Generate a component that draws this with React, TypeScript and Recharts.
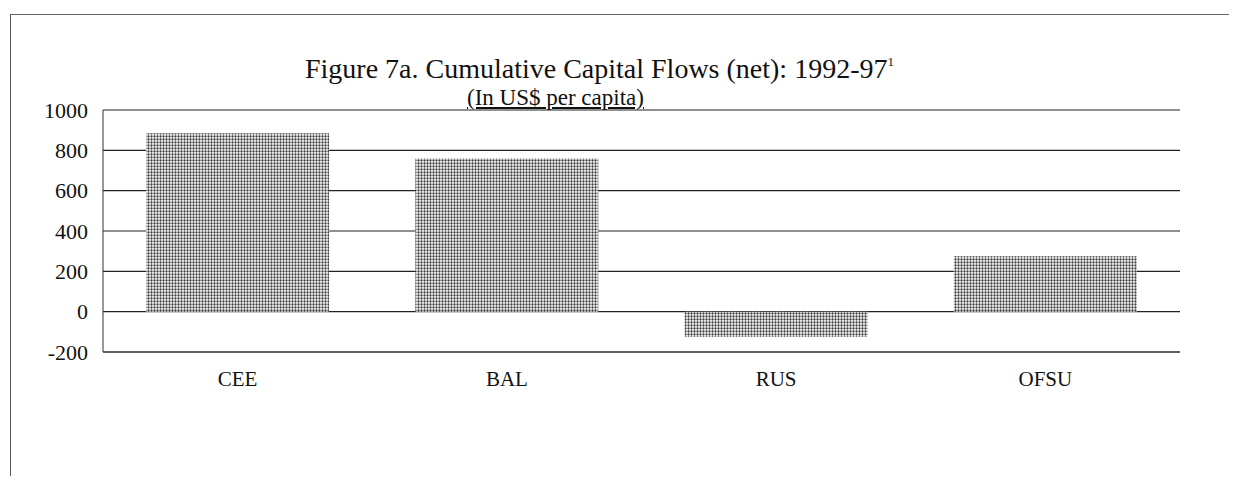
import { BarChart, Bar, XAxis, YAxis, CartesianGrid } from "recharts";

const regions = ["CEE", "BAL", "RUS", "OFSU"];
const flowsPerCapita = [885, 760, -125, 275];
const yTicks = [-200, 0, 200, 400, 600, 800, 1000];

const data = regions.map((region, i) => ({ region, flow: flowsPerCapita[i] }));

const serif = "Liberation Serif, DejaVu Serif, serif";

export default function App() {
  return (
    <div
      style={{
        position: "relative",
        width: 1237,
        height: 484,
        margin: -8,
        background: "#fff",
        overflow: "hidden",
        fontFamily: serif,
      }}
    >
      {/* scanned page frame */}
      <div
        style={{
          position: "absolute",
          left: 10,
          top: 14,
          width: 1240,
          height: 480,
          borderLeft: "1px solid #555",
          borderTop: "1px solid #666",
        }}
      />
      <div
        style={{
          position: "absolute",
          left: 305,
          top: 55,
          fontSize: 28,
          color: "#111",
          whiteSpace: "nowrap",
          lineHeight: "27px",
        }}
      >
        Figure 7a. Cumulative Capital Flows (net): 1992-97
        <span style={{ fontSize: 13, verticalAlign: "top", lineHeight: "13px" }}>1</span>
      </div>
      <div
        style={{
          position: "absolute",
          left: 467,
          top: 86,
          fontSize: 23,
          color: "#111",
          textDecoration: "underline",
          whiteSpace: "nowrap",
          lineHeight: "23px",
        }}
      >
        (In US$ per capita)
      </div>
      <div style={{ position: "absolute", left: 0, top: 0 }}>
        <BarChart
          width={1237}
          height={484}
          data={data}
          margin={{ top: 110, right: 57, left: 0, bottom: 102 }}
          barCategoryGap="16%"
          style={{ fontFamily: serif }}
        >
          <defs>
            <pattern id="dots" width="3" height="3" patternUnits="userSpaceOnUse">
              <rect width="3" height="3" fill="#fff" />
              <circle cx="1.5" cy="1.5" r="1.15" fill="#3a3a3a" />
            </pattern>
          </defs>
          <CartesianGrid vertical={false} stroke="#222" strokeWidth={1.2} />
          <XAxis
            dataKey="region"
            height={30}
            axisLine={{ stroke: "#333" }}
            tickLine={false}
            tickMargin={13}
            tick={{ fill: "#111", fontSize: 21, fontFamily: serif }}
          />
          <YAxis
            domain={[-200, 1000]}
            ticks={yTicks}
            width={103}
            axisLine={{ stroke: "#333" }}
            tickLine={false}
            tickSize={0}
            tickMargin={15}
            tick={{ fill: "#111", fontSize: 22, fontFamily: serif }}
          />
          <YAxis
            yAxisId="frame"
            orientation="right"
            width={0}
            tick={false}
            tickLine={false}
            axisLine={{ stroke: "#222", strokeWidth: 1.5 }}
          />
          <Bar dataKey="flow" fill="url(#dots)" isAnimationActive={false} />
        </BarChart>
      </div>
    </div>
  );
}
